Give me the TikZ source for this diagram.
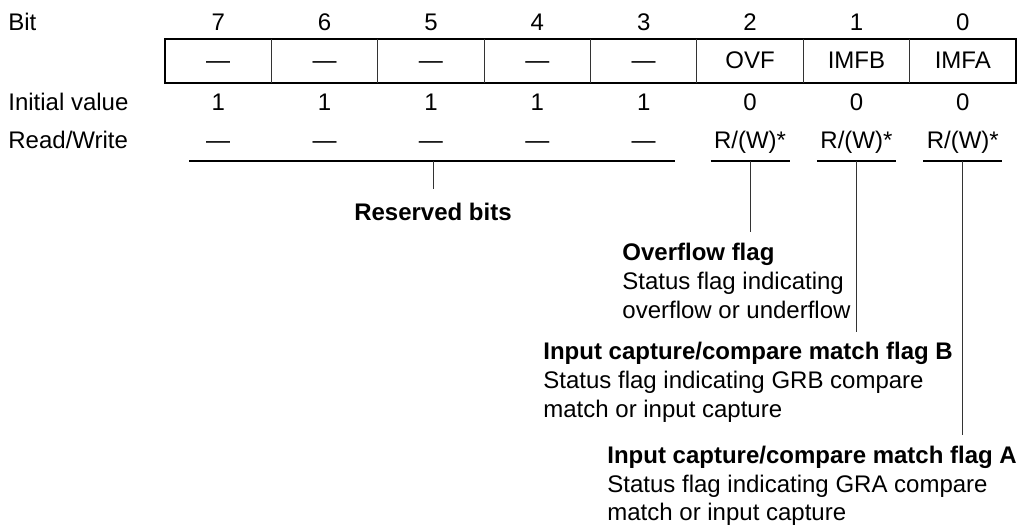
\documentclass[tikz,border=0pt]{standalone}
\usepackage{fontspec}
\setmainfont{Liberation Sans}
\begin{document}
\begin{tikzpicture}[x=0.5pt,y=-0.5pt,
  txt/.style={font=\fontsize{12}{14}\selectfont, inner sep=0pt, anchor=base},
  hd/.style={txt, anchor=base west},
  ttl/.style={txt, anchor=base west, font=\fontsize{12}{14}\selectfont\bfseries},
  body/.style={txt, anchor=base west},
  ln/.style={line width=0.6pt, draw=black},
  thin/.style={line width=0.5pt, draw=black!80}]
\useasboundingbox (0,0) rectangle (1017,525);

% row headings
\node[hd] (hbit) at (8,30) {Bit};
\node[hd] (hinit) at (8,110) {Initial value};
\node[hd] (hrw) at (8,148) {Read/Write};

% register box
\draw[ln] (165,39) rectangle (1016,83);
\foreach \k in {1,...,7} {
  \draw[thin] ({165+\k*106.375},39) -- ({165+\k*106.375},83);
}

% columns
\foreach \b/\nm/\iv/\rw in {7/{—}/1/{—},6/{—}/1/{—},5/{—}/1/{—},4/{—}/1/{—},3/{—}/1/{—},2/OVF/0/{R/(W)*},1/IMFB/0/{R/(W)*},0/IMFA/0/{R/(W)*}} {
  \pgfmathsetmacro{\cx}{165+(7-\b+0.5)*106.375}
  \node[txt] (bit\b) at (\cx,30) {\b};
  \node[txt] (name\b) at (\cx,68) {\nm};
  \node[txt] (init\b) at (\cx,110) {\iv};
  \node[txt] (rw\b) at (\cx,148) {\rw};
}

% reserved bits
\coordinate (resL) at (189,161);
\coordinate (resR) at (675,161);
\coordinate (resM) at (433,161);
\coordinate (resE) at (433,189);
\draw[ln] (resL) -- (resR);
\draw[thin] (resM) -- (resE);
\node[ttl, anchor=base] (reslbl) at (433,220) {Reserved bits};

% underlines for flags
\foreach \b/\len in {2/232,1/332,0/435} {
  \pgfmathsetmacro{\cx}{165+(7-\b+0.5)*106.375}
  \coordinate (ulL\b) at ({\cx-39.5},161);
  \coordinate (ulR\b) at ({\cx+39.5},161);
  \coordinate (ulM\b) at (\cx,161);
  \coordinate (ulE\b) at (\cx,\len);
  \draw[ln] (ulL\b) -- (ulR\b);
  \draw[thin] (ulM\b) -- (ulE\b);
}

% Overflow flag
\node[ttl] (ovft) at (622,260) {Overflow flag};
\node[body] (ovf1) at (622,289) {Status flag indicating};
\node[body] (ovf2) at (622,318) {overflow or underflow};

% flag B
\node[ttl] (fbt) at (543,359) {Input capture/compare match flag B};
\node[body] (fb1) at (543,388) {Status flag indicating GRB compare};
\node[body] (fb2) at (543,417) {match or input capture};

% flag A
\node[ttl] (fat) at (607,463) {Input capture/compare match flag A};
\node[body] (fa1) at (607,492) {Status flag indicating GRA compare};
\node[body] (fa2) at (607,520) {match or input capture};
\end{tikzpicture}
\end{document}
